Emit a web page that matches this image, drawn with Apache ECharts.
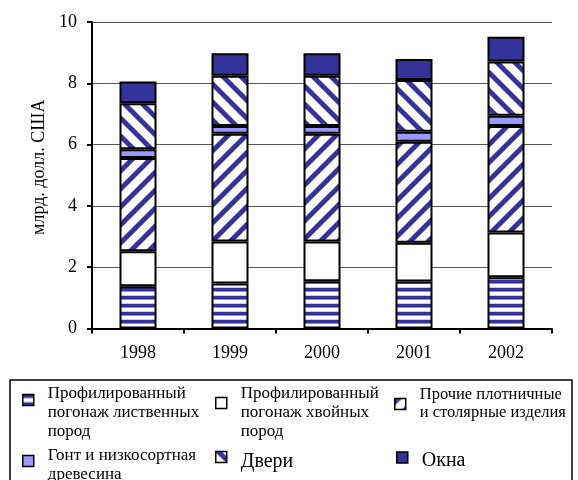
<!DOCTYPE html>
<html><head><meta charset="utf-8">
<script src="https://cdn.jsdelivr.net/npm/echarts@6/dist/echarts.min.js"></script>
<style>html,body{margin:0;padding:0;background:#fff}#c{width:578px;height:480px}</style>
</head><body><div id="c"></div><script>
// ---- data ----
const years = ['1998', '1999', '2000', '2001', '2002'];
const hardwood = [1.38, 1.47, 1.54, 1.53, 1.67];
const softwood = [1.14, 1.37, 1.30, 1.27, 1.46];
const otherCarp = [3.04, 3.51, 3.51, 3.29, 3.48];
const shingles = [0.29, 0.26, 0.26, 0.33, 0.33];
const doors = [1.50, 1.64, 1.64, 1.69, 1.77];
const windowsV = [0.71, 0.73, 0.73, 0.68, 0.81];
const seriesNames = [
  'Профилированный\nпогонаж лиственных\nпород',
  'Профилированный\nпогонаж хвойных\nпород',
  'Прочие плотничные\nи столярные изделия',
  'Гонт и низкосортная\nдревесина',
  'Двери',
  'Окна'
];
const yAxisName = 'млрд. долл. США';

// ---- patterns ----
const NAVY = '#333399';
function hPattern() {
  const c = document.createElement('canvas'); c.width = 8; c.height = 8;
  const g = c.getContext('2d');
  const rows = [NAVY, NAVY, NAVY, '#8f8fc8', '#ffffff', '#ffffff', '#ffffff', '#c8c8e8'];
  rows.forEach((col, i) => { g.fillStyle = col; g.fillRect(0, i, 8, 1); });
  return c;
}
function dPattern(dir) {
  const s = 18, c = document.createElement('canvas'); c.width = s; c.height = s;
  const g = c.getContext('2d');
  g.fillStyle = '#fff'; g.fillRect(0, 0, s, s);
  for (let x = 0; x < s; x++) for (let y = 0; y < s; y++) {
    const d = (((dir > 0 ? x + y : x - y) % s) + s) % s;
    let col = null;
    if (d < 6) col = NAVY; else if (d === 6 || d === s - 1) col = '#9a9acc';
    if (col) { g.fillStyle = col; g.fillRect(x, y, 1, 1); }
  }
  return c;
}
const fills = [
  { image: hPattern(), repeat: 'repeat' },
  '#ffffff',
  { image: dPattern(1), repeat: 'repeat' },
  '#9999ff',
  { image: dPattern(-1), repeat: 'repeat' },
  NAVY
];
const values = [hardwood, softwood, otherCarp, shingles, doors, windowsV];

const FONT = 'Liberation Serif';
const series = values.map((v, i) => ({
  name: seriesNames[i], type: 'bar', stack: 'all', data: v, barWidth: 37,
  itemStyle: { color: fills[i], borderColor: '#000', borderWidth: 2 },
  emphasis: { disabled: true }
}));

// legend layout: gap = height of an empty first rich line that pushes text down relative to icon
const legendLayout = [
  { left: 22, top: 358.5, gap: 26, size: 17, lh: 19 },
  { left: 215, top: 364.5, gap: 20, size: 17, lh: 19 },
  { left: 394, top: 386, gap: 0, size: 16.5, lh: 18 },
  { left: 22, top: 437.5, gap: 9, size: 17, lh: 19 },
  { left: 215, top: 440.5, gap: 9, size: 20, lh: 24 },
  { left: 396, top: 442, gap: 7, size: 20, lh: 24 }
];
const legends = legendLayout.map((L, i) => ({
  data: [seriesNames[i]], left: L.left, top: L.top, padding: 0,
  icon: 'rect', itemWidth: 11, itemHeight: 11, selectedMode: false,
  itemStyle: { borderColor: '#000', borderWidth: 1.5 },
  formatter: L.gap > 0 ? (n => '{g| }\n' + n) : (n => n),
  textStyle: {
    fontFamily: FONT, fontSize: L.size, lineHeight: L.lh, color: '#000', padding: [0, 0, 0, 9],
    rich: { g: { height: L.gap, lineHeight: L.gap, fontSize: 1 } }
  }
}));

const chart = echarts.init(document.getElementById('c'), null, { renderer: 'canvas' });
chart.setOption({
  animation: false,
  backgroundColor: '#fff',
  grid: { left: 92, right: 26, top: 22, bottom: 151.5, containLabel: false },
  xAxis: {
    type: 'category', data: years,
    axisLine: { lineStyle: { color: '#000', width: 2 } },
    axisTick: { show: true, length: 5, lineStyle: { color: '#000', width: 2 } },
    axisLabel: { fontFamily: FONT, fontSize: 18, color: '#000', margin: 16 }
  },
  yAxis: {
    type: 'value', min: 0, max: 10, interval: 2,
    name: yAxisName, nameLocation: 'middle', nameRotate: 90, nameGap: 43,
    nameTextStyle: { fontFamily: FONT, fontSize: 18, color: '#000', padding: [0, 0, 0, 16] },
    axisLine: { show: true, lineStyle: { color: '#000', width: 2 } },
    axisTick: { show: true, length: 5, lineStyle: { color: '#000', width: 2 } },
    axisLabel: { fontFamily: FONT, fontSize: 18, color: '#000', margin: 15 },
    splitLine: { show: true, lineStyle: { color: '#555', width: 1 } }
  },
  legend: legends,
  graphic: [{
    type: 'rect', shape: { x: 10, y: 380, width: 562, height: 120 },
    style: { fill: 'none', stroke: '#000', lineWidth: 1.5 }, silent: true, z: 0
  }],
  series: series
});
</script></body></html>
